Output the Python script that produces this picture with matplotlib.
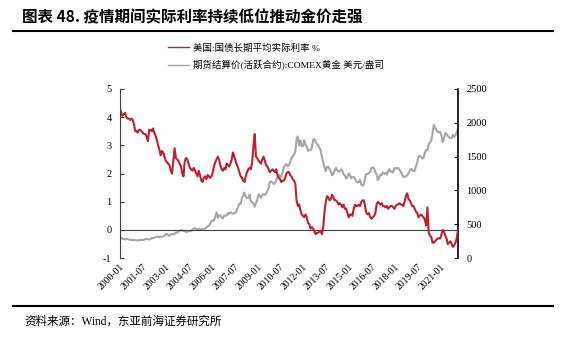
import matplotlib
matplotlib.use('Agg')
import matplotlib.pyplot as plt
import matplotlib.dates as mdates
from matplotlib.lines import Line2D
import pandas as pd

plt.rcParams['font.family'] = ['Liberation Serif', 'Noto Sans CJK SC']
plt.rcParams['axes.unicode_minus'] = False

# monthly data, 2000-01 .. 2022-03
months = pd.date_range('2000-01-01', '2022-03-01', freq='MS')

# US long-term average real rate (%)
real_rate = [
    4.30, 4.15, 4.05, 4.10, 4.15, 4.00, 3.95, 3.95, 3.90, 3.95, 3.90, 3.75,   # 2000
    3.50, 3.50, 3.45, 3.55, 3.55, 3.50, 3.45, 3.40, 3.40, 3.30, 3.15, 3.55,   # 2001
    3.55, 3.50, 3.60, 3.45, 3.35, 3.20, 3.00, 2.85, 2.65, 2.80, 2.75, 2.60,   # 2002
    2.45, 2.40, 2.35, 2.30, 2.10, 2.00, 2.45, 2.90, 2.55, 2.50, 2.45, 2.35,   # 2003
    2.25, 2.00, 1.90, 2.45, 2.55, 2.50, 2.35, 2.20, 2.15, 2.10, 2.20, 2.10,   # 2004
    2.00, 1.90, 2.10, 1.95, 1.75, 1.70, 1.85, 1.90, 1.80, 1.95, 1.90, 1.85,   # 2005
    1.90, 2.05, 2.25, 2.40, 2.50, 2.60, 2.50, 2.30, 2.15, 2.10, 2.20, 2.15,   # 2006
    2.35, 2.30, 2.25, 2.35, 2.50, 2.75, 2.60, 2.45, 2.30, 2.20, 2.05, 1.90,   # 2007
    1.85, 1.75, 1.70, 1.90, 2.05, 2.15, 2.20, 2.15, 2.40, 2.95, 3.40, 2.60,   # 2008
    2.55, 2.45, 2.40, 2.35, 2.50, 2.60, 2.45, 2.30, 2.25, 2.15, 2.05, 2.10,   # 2009
    2.15, 2.10, 2.05, 2.15, 1.95, 1.85, 1.80, 1.70, 1.75, 1.75, 1.85, 2.00,   # 2010
    2.05, 2.05, 1.95, 1.90, 1.80, 1.75, 1.65, 1.05, 0.85, 0.90, 0.70, 0.55,   # 2011
    0.50, 0.45, 0.55, 0.45, 0.25, 0.20, 0.05, 0.10, 0.05, -0.05, -0.15, -0.10,  # 2012
    -0.10, -0.05, -0.05, -0.15, 0.10, 0.65, 1.00, 1.20, 1.15, 1.05, 1.10, 1.25,  # 2013
    1.15, 1.05, 1.05, 1.00, 0.90, 0.95, 0.90, 0.80, 0.90, 0.75, 0.75, 0.60,   # 2014
    0.45, 0.55, 0.55, 0.50, 0.75, 0.90, 0.85, 0.85, 0.90, 0.85, 1.00, 1.05,   # 2015
    1.05, 0.80, 0.60, 0.55, 0.60, 0.45, 0.40, 0.45, 0.50, 0.60, 0.90, 1.00,   # 2016
    0.95, 0.90, 0.95, 0.85, 0.85, 0.80, 0.85, 0.75, 0.80, 0.85, 0.85, 0.80,   # 2017
    0.75, 0.85, 0.90, 0.90, 0.95, 0.90, 0.90, 0.85, 1.00, 1.20, 1.30, 1.10,   # 2018
    1.05, 0.95, 0.85, 0.85, 0.75, 0.65, 0.60, 0.45, 0.50, 0.55, 0.50, 0.45,   # 2019
    0.35, 0.15, 0.80, -0.10, -0.20, -0.25, -0.45, -0.45, -0.40, -0.35, -0.30, -0.30,  # 2020
    -0.30, -0.15, 0.00, -0.05, -0.20, -0.30, -0.50, -0.45, -0.40, -0.50, -0.60, -0.55,  # 2021
    -0.45, -0.30, 0.00,                                                       # 2022
]

# COMEX gold futures settlement price (USD/oz)
gold_price = [
    284, 300, 286, 280, 275, 285, 282, 274, 273, 270, 266, 272,             # 2000
    266, 262, 263, 261, 272, 270, 268, 273, 283, 283, 276, 276,             # 2001
    282, 296, 294, 302, 314, 321, 314, 310, 319, 317, 319, 333,             # 2002
    356, 359, 341, 328, 355, 356, 351, 360, 379, 378, 389, 407,             # 2003
    414, 405, 406, 404, 384, 392, 398, 400, 405, 420, 439, 442,             # 2004
    424, 423, 434, 429, 422, 431, 424, 438, 456, 470, 476, 510,             # 2005
    549, 555, 557, 610, 676, 596, 633, 632, 598, 585, 627, 629,             # 2006
    631, 665, 655, 679, 667, 655, 665, 665, 712, 754, 806, 803,             # 2007
    889, 922, 968, 909, 888, 889, 939, 839, 829, 806, 760, 816,             # 2008
    858, 943, 924, 890, 928, 946, 934, 949, 996, 1043, 1127, 1134,          # 2009
    1118, 1095, 1113, 1148, 1205, 1233, 1193, 1215, 1270, 1342, 1370, 1391,  # 2010
    1356, 1372, 1424, 1473, 1510, 1529, 1572, 1756, 1800, 1665, 1739, 1652,  # 2011
    1656, 1742, 1673, 1650, 1585, 1596, 1594, 1630, 1744, 1760, 1721, 1684,  # 2012
    1670, 1627, 1593, 1487, 1414, 1343, 1286, 1347, 1349, 1316, 1275, 1225,  # 2013
    1244, 1300, 1336, 1299, 1287, 1279, 1311, 1296, 1239, 1222, 1176, 1200,  # 2014
    1251, 1227, 1179, 1198, 1199, 1181, 1128, 1117, 1125, 1156, 1086, 1068,  # 2015
    1097, 1199, 1246, 1242, 1260, 1276, 1337, 1340, 1326, 1266, 1236, 1151,  # 2016
    1192, 1234, 1231, 1267, 1246, 1260, 1236, 1283, 1314, 1280, 1283, 1265,  # 2017
    1331, 1331, 1325, 1334, 1303, 1281, 1238, 1201, 1198, 1215, 1221, 1250,  # 2018
    1291, 1320, 1300, 1285, 1284, 1359, 1413, 1500, 1510, 1495, 1471, 1480,  # 2019
    1560, 1597, 1591, 1683, 1715, 1732, 1847, 1968, 1921, 1900, 1866, 1858,  # 2020
    1867, 1808, 1718, 1760, 1850, 1834, 1807, 1785, 1775, 1777, 1821, 1790,  # 2021
    1817, 1856, 1910,                                                        # 2022
]

tick_dates = pd.date_range('2000-01-01', '2021-01-01', freq='18MS')
rate_ticks = [-1, 0, 1, 2, 3, 4, 5]
gold_ticks = [0, 500, 1000, 1500, 2000, 2500]

label_rate = '美国:国债长期平均实际利率 %'
label_gold = '期货结算价(活跃合约):COMEX黄金 美元/盎司'

fig = plt.figure(figsize=(5.66, 3.37), dpi=100, facecolor='white')
ax1 = fig.add_axes([0.212, 0.234, 0.597, 0.502])
ax2 = ax1.twinx()

red_line, = ax1.plot(months, real_rate, color='#C0202E', lw=1.5)
gray_line, = ax2.plot(months, gold_price, color='#A6A6A6', lw=1.5)
ax1.axhline(0, color='#404040', lw=0.8, zorder=1)

# keep the rate line above the gold line
ax1.set_zorder(2)
ax1.patch.set_visible(False)

ax1.set_xlim(months[0], months[-1])
ax1.set_ylim(-1, 5)
ax2.set_ylim(0, 2500)
ax1.set_yticks(rate_ticks)
ax2.set_yticks(gold_ticks)

ax1.set_xticks(tick_dates)
ax1.xaxis.set_major_formatter(mdates.DateFormatter('%Y-%m'))
for lbl in ax1.get_xticklabels():
    lbl.set_rotation(45)
    lbl.set_ha('right')
    lbl.set_rotation_mode('anchor')
ax1.tick_params(axis='x', length=0, labelsize=7, pad=3)
ax1.tick_params(axis='y', direction='in', length=3, labelsize=7.5, pad=6,
                color='#404040')
ax2.tick_params(axis='y', direction='in', length=3, labelsize=7.5, pad=6,
                color='black')

for ax in (ax1, ax2):
    for side in ('top', 'bottom'):
        ax.spines[side].set_visible(False)
ax1.spines['right'].set_visible(False)
ax1.spines['left'].set_color('#404040')
ax1.spines['left'].set_linewidth(0.8)
ax2.spines['left'].set_visible(False)
ax2.spines['right'].set_color('black')
ax2.spines['right'].set_linewidth(1.2)

# legend
fig.legend([Line2D([], [], color='#A0303A', lw=1.0),
            Line2D([], [], color='#A6A6A6', lw=1.0)],
           [label_rate, label_gold],
           loc='upper left', bbox_to_anchor=(0.288, 0.885),
           frameon=False, fontsize=6.8, handlelength=2.3, handletextpad=0.4,
           labelspacing=0.75, borderpad=0)

# title and rules
fig.text(0.039, 0.948, '图表 48. 疫情期间实际利率持续低位推动金价走强',
         fontsize=11.2, fontweight='bold', va='center',
         family=['Noto Sans CJK SC'])
fig.add_artist(Line2D([0.023, 0.977], [0.907, 0.907], color='black', lw=1.5))
fig.add_artist(Line2D([0.023, 0.977], [0.092, 0.092], color='black', lw=1.5))
fig.text(0.044, 0.045, '资料来源：Wind，东亚前海证券研究所', fontsize=8.3,
         va='center')

fig.savefig('out.png', dpi=100, facecolor='white')
